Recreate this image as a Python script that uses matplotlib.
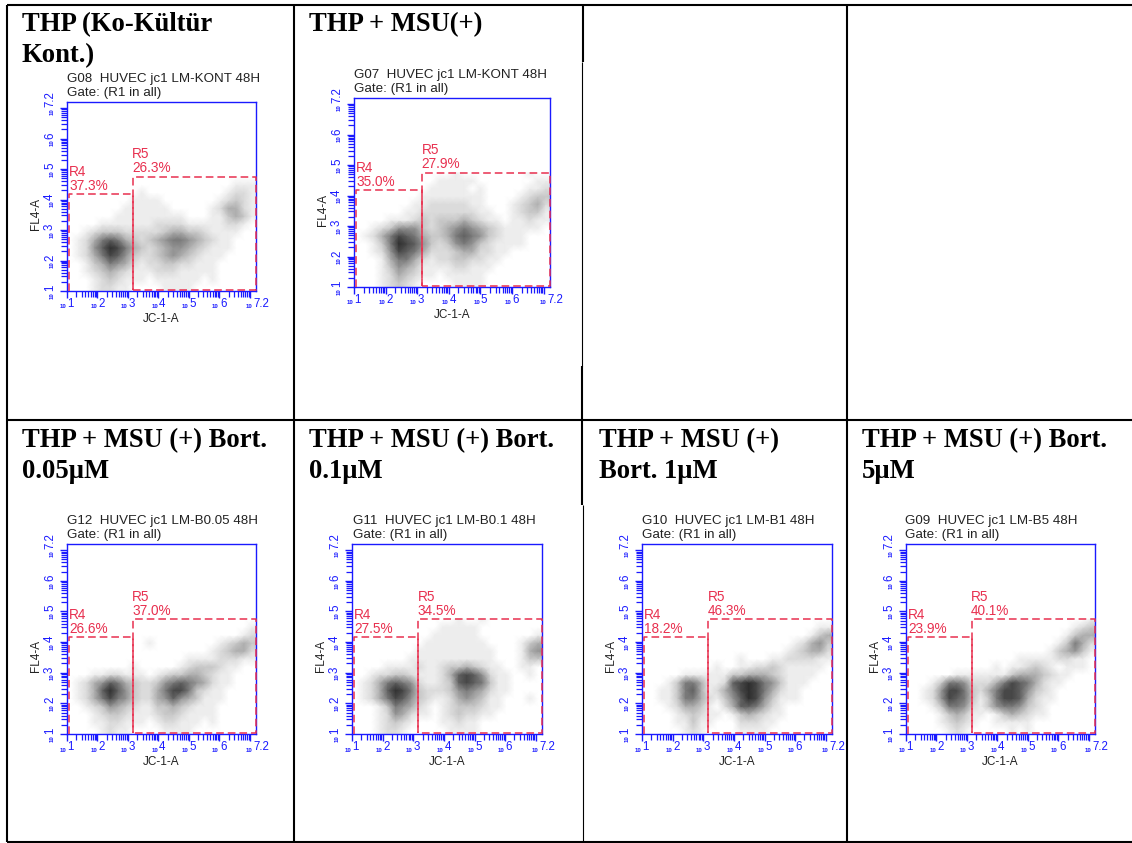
import numpy as np
import matplotlib
matplotlib.use("Agg")
import matplotlib.pyplot as plt
from matplotlib.colors import LinearSegmentedColormap
from matplotlib.ticker import FixedLocator, NullFormatter

W, H = 1132, 843
SANS = "Liberation Sans"
SERIF = "Liberation Serif"
BLUE = "#1a1aff"
RED = "#e8304f"

titles = ["THP (Ko-Kültür\nKont.)", "THP + MSU(+)",
          "THP + MSU (+) Bort.\n0.05µM", "THP + MSU (+) Bort.\n0.1µM",
          "THP + MSU (+)\nBort. 1µM", "THP + MSU (+) Bort.\n5µM"]
headers = ["G08  HUVEC jc1 LM-KONT 48H", "G07  HUVEC jc1 LM-KONT 48H",
           "G12  HUVEC jc1 LM-B0.05 48H", "G11  HUVEC jc1 LM-B0.1 48H",
           "G10  HUVEC jc1 LM-B1 48H", "G09  HUVEC jc1 LM-B5 48H"]
r4_pct = ["37.3%", "35.0%", "26.6%", "27.5%", "18.2%", "23.9%"]
r5_pct = ["26.3%", "27.9%", "37.0%", "34.5%", "46.3%", "40.1%"]

# estimated event density: top row first, log10 decades 1 .. ~4.9
density_g08 = ["000000000000000000000000","000000000000000000000111","000000000100000000001221",
 "000000001111000000012321","000000011111100000124421","000000111111111000113431",
 "000011111112222111112210","001233322222344332111100","012467643234566543211000",
 "012579864323455432111000","012468753223454321110000","001346542122332211100000",
 "001234321112221111100000","000123211101111110100000","000122110000111100000000"]
density_g07 = ["000000000000100000000100","000000000011111000000011","000000000111110100000112",
 "000000001111111100001233","000000011222221100012342","000000112222222110012331",
 "000011123233343211011211","001235553234565432111110","012468764334676532111000",
 "001369875323565321111000","001258764222344221100000","000146642122332211000000",
 "000135431111221110000000","000124321101111100000000","000123210000111100000000"]
density_g12 = ["000000000000000000000000","000000000000000000000001","000000000000000000000012",
 "000000000010000000012343","000000000000000000123442","000000000000000111122211",
 "000000001000001233321100","000112211101233443211000","012457643223567654211000",
 "012479753224688632110000","012468653224575431110000","001235432113343211100000",
 "000123321112332111100000","000112211101221110100000","000012110000111100000000"]
density_g11 = ["000000000000010010000000","000000000001111100000000","000000000011111100000001",
 "000000000111111110000134","000000001111111111000145","000000011111111111000133",
 "000011112112334321100110","001223321112478752110010","012467652112378763110000",
 "012479863222356542110000","012468753211245431100010","000136542101233321100000",
 "000125421101232211000000","000123210001121100000000","000122100000111100000000"]
density_g10 = ["000000000000000000000000","000000000000000000000011","000000000000000000000134",
 "000000000000000000012453","000000000000000000123442","000000000000100011222211",
 "000000000100112232111110","000001111113344432111100","000136641127898653111000",
 "001136741246898642110000","001136642135798531110000","000124431024776421000000",
 "000012321101343211000000","000011311000222110000000","000001210000111100000000"]
density_g09 = ["000000000000000000000001","000000000000000000000123","000000000000000000001344",
 "000000000000000000013642","000000000000000000134531","000000000000001111122110",
 "000000000001011232101110","000000111111134443211000","000136652224687642110000",
 "001258863246887532100000","001258763136887421100000","000136652135665321000000",
 "000013431101343211000000","000012321001111100000000","000001210000010100000000"]
densities = [density_g08, density_g07, density_g12, density_g11, density_g10, density_g09]

# gates in log10 units
r4_gate = [1.055, 3.15, 4.17]   # left, right, top
r5_gate = [3.15, 7.2, 4.75]     # left, right, top
gate_floor = 1.03
axis_max = 7.2
tick_labels = ["1", "2", "3", "4", "5", "6", "7.2"]
tick_pos = [1, 2, 3, 4, 5, 6, 7.2]

# plot boxes in pixels: left, top, width, height
boxes = [(67, 102, 189, 189), (354, 98, 196, 189), (67, 544, 189, 190),
         (352, 544, 190, 190), (642, 544, 190, 190), (906, 544, 189, 190)]
title_xy = [(22, 12), (309, 12), (22, 428), (309, 428), (599, 428), (862, 428)]
header_xy = [(67, 79), (354, 75), (67, 521), (353, 521), (642, 521), (905, 521)]

fig = plt.figure(figsize=(W / 100, H / 100), dpi=100, facecolor="white")
bg = fig.add_axes([0, 0, 1, 1])
bg.set_xlim(0, W); bg.set_ylim(H, 0); bg.axis("off")

# table rules
for x, y0, y1, lw in [(7, 5, 842, 1.5), (294, 5, 842, 1.5), (583, 5, 62, 1.5), (582, 62, 366, 0.8),
                      (581.5, 366, 505, 1.5), (583, 505, 842, 0.8), (847, 5, 842, 1.5)]:
    bg.plot([x, x], [y0, y1], color="black", lw=lw, solid_capstyle="butt")
for y in (5, 420, 842):
    bg.plot([7, W], [y, y], color="black", lw=1.5, solid_capstyle="butt")

cmap = LinearSegmentedColormap.from_list("ev", ["#ffffff", "#c8c8c8", "#7a7a7a", "#2e2e2e"])
minor = [m * 10.0 ** d for d in range(1, 8) for m in range(1, 10) if m * 10.0 ** d <= 10 ** axis_max]

for i in range(6):
    bx, by, bw, bh = boxes[i]
    bg.text(*title_xy[i], titles[i], family=SERIF, weight="bold", fontsize=19.2, va="top",
            ha="left", linespacing=1.34, color="black")
    bg.text(header_xy[i][0], header_xy[i][1], headers[i], family=SANS, fontsize=9.65, va="center",
            ha="left", color="#222222")
    bg.text(header_xy[i][0], header_xy[i][1] + 14, "Gate: (R1 in all)", family=SANS, fontsize=9.65,
            va="center", ha="left", color="#222222")
    bg.text(bx - 31, by + bh * 0.59, "FL4-A", family=SANS, fontsize=8.5, rotation=90,
            va="center", ha="center", color="#222222")
    bg.text(bx + bw * 0.5, by + bh + 28, "JC-1-A", family=SANS, fontsize=8.5, va="center",
            ha="center", color="#222222")

    ax = fig.add_axes([bx / W, 1 - (by + bh) / H, bw / W, bh / H], facecolor="white")
    ax.set_xscale("log"); ax.set_yscale("log")
    ax.set_xlim(10, 10 ** axis_max); ax.set_ylim(10, 10 ** axis_max)

    rows = np.array([[int(c) for c in r] for r in densities[i][::-1]], float)
    nr, nc = rows.shape
    step = (axis_max - 1) / 24
    xs = 1 + (np.arange(nc) + 0.5) * step
    ys = 1 + (np.arange(nr) + 0.5) * step
    xe = np.r_[1, xs, axis_max]
    ye = np.r_[1, ys]
    z = np.pad(rows, ((1, 0), (1, 1)), mode="edge")
    ax.pcolormesh(10 ** xe, 10 ** ye, z, shading="gouraud", cmap=cmap, vmin=0, vmax=9, zorder=1)

    for s in ax.spines.values():
        s.set_color(BLUE); s.set_linewidth(1.0)
    ax.xaxis.set_ticks_position("bottom"); ax.yaxis.set_ticks_position("left")
    for axis in (ax.xaxis, ax.yaxis):
        axis.set_major_locator(FixedLocator([10.0 ** d for d in range(1, 8)]))
        axis.set_minor_locator(FixedLocator(minor))
        axis.set_major_formatter(NullFormatter())
        axis.set_minor_formatter(NullFormatter())
    ax.tick_params(which="major", length=4.8, width=1.0, color=BLUE)
    ax.tick_params(which="minor", length=4.0, width=0.9, color=BLUE)

    # gates
    dash = dict(color=RED, lw=1.1, ls=(0, (5, 2.6)), zorder=4, clip_on=False)
    ax.plot(10 ** np.array([r4_gate[0], r4_gate[0], r4_gate[1], r4_gate[1]]),
            10 ** np.array([1.0, r4_gate[2], r4_gate[2], gate_floor]), **dash)
    ax.plot(10 ** np.array([r5_gate[0], r5_gate[0], r5_gate[1], r5_gate[1], r5_gate[0]]),
            10 ** np.array([gate_floor, r5_gate[2], r5_gate[2], gate_floor, gate_floor]), **dash)
    ax.annotate("R4\n" + r4_pct[i], (10 ** r4_gate[0], 10 ** r4_gate[2]), xytext=(0.3, 0.9),
                textcoords="offset points", family=SANS, fontsize=9.8, color=RED, va="bottom",
                ha="left", linespacing=1.0)
    ax.annotate("R5\n" + r5_pct[i], (10 ** r5_gate[0], 10 ** r5_gate[2]), xytext=(-0.3, 0.9),
                textcoords="offset points", family=SANS, fontsize=9.8, color=RED, va="bottom",
                ha="left", linespacing=1.0)

    # axis labels: tiny "10" with a larger exponent
    for lab, d in zip(tick_labels, tick_pos):
        px = bx + (d - 1) / (axis_max - 1) * bw
        py = by + bh - (d - 1) / (axis_max - 1) * bh
        if lab == "7.2":
            px -= 3
            py += 5
        bg.text(px - 0.5, by + bh + 16, "10", family=SANS, weight="bold", fontsize=4.4, color=BLUE,
                ha="right", va="center")
        bg.text(px + 0.5, by + bh + 13, lab, family=SANS, fontsize=8.3, color=BLUE, ha="left", va="center")
        bg.text(bx - 15, py + 1, "10", family=SANS, weight="bold", fontsize=4.4, color=BLUE,
                rotation=90, ha="center", va="top")
        bg.text(bx - 17, py, lab, family=SANS, fontsize=8.3, color=BLUE, rotation=90,
                ha="center", va="bottom")

fig.savefig("out.png", dpi=100, facecolor="white")
